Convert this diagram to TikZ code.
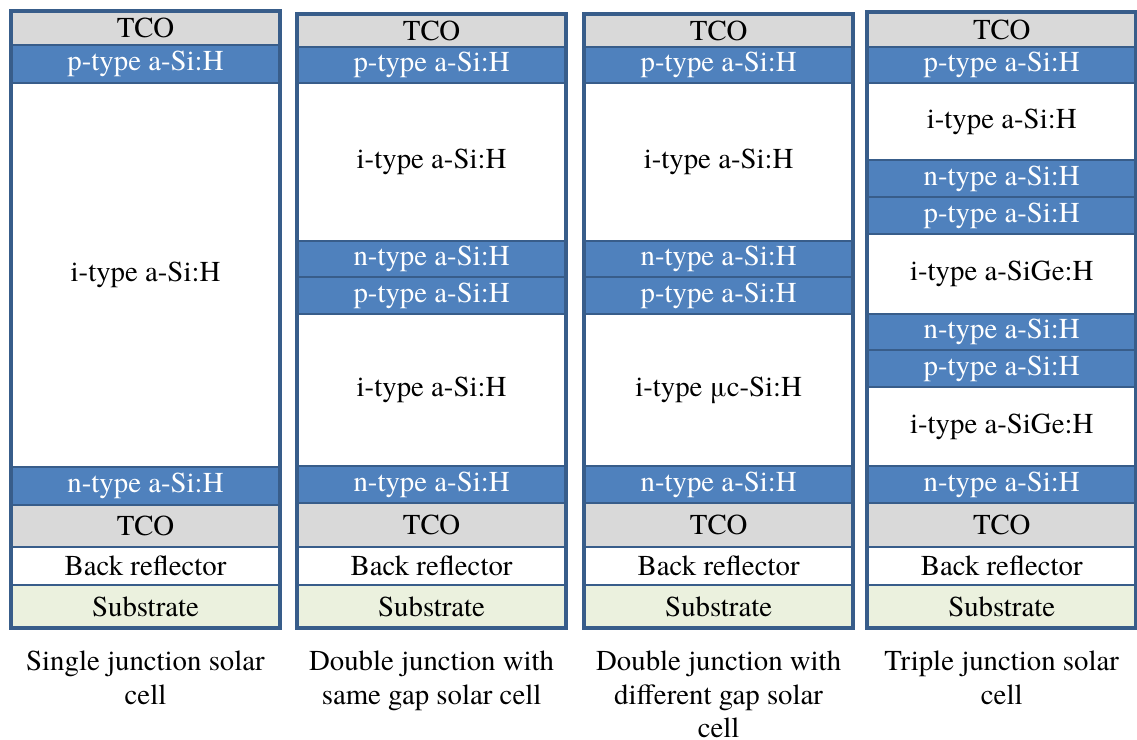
\documentclass[tikz,border=0pt]{standalone}
\usepackage{fontspec}
\setmainfont{texgyretermes}[Extension=.otf, UprightFont=*-regular,
  BoldFont=*-bold, ItalicFont=*-italic, BoldItalicFont=*-bolditalic]
\usepackage{xcolor}
\usepackage{tikz}
\definecolor{layerblue}{HTML}{4F81BD}
\definecolor{edgeblue}{HTML}{385D8A}
\definecolor{tcogrey}{HTML}{D9D9D9}
\definecolor{subgreen}{HTML}{EBF1DE}

\begin{document}
\begin{tikzpicture}[
  x=0.025cm, y=-0.025cm,
  font=\fontsize{20.5}{23.5}\selectfont,
  layer/.style={draw=edgeblue, line width=2pt, inner sep=0pt, outer sep=0pt,
    minimum width=269*0.025cm},
  tco/.style={layer, fill=tcogrey},
  dop/.style={layer, fill=layerblue, text=white},
  intr/.style={layer, fill=white},
  refl/.style={layer, fill=white},
  subs/.style={layer, fill=subgreen},
  cellframe/.style={draw=edgeblue, line width=2.8pt},
  cellcap/.style={anchor=north, align=center, inner sep=0pt},
]
  \useasboundingbox (0,0) rectangle (1137,740);

  % Single junction cell
\begin{scope}[xshift=0.275cm]
  \foreach \ya/\yb/\kind/\txt [count=\i] in {
      11/45/tco/TCO,
      45/83/dop/p-type a-Si:H,
      83/467/intr/i-type a-Si:H,
      467/505/dop/n-type a-Si:H,
      505/547/tco/TCO,
      547/585/refl/Back reflector,
      585/628/subs/Substrate}
    \node[\kind, minimum height={(\yb-\ya)*0.025cm}] (single-\i)
      at (134.5,{(\ya+\yb)/2}) {\txt};
  \draw[cellframe] (single-1.north west) rectangle (single-7.south east);
  \node[cellcap] (cap1) at (134.5,651) {Single junction solar\\cell};
\end{scope}

  % Double junction, same gap
\begin{scope}[xshift=7.425cm]
  \foreach \ya/\yb/\kind/\txt [count=\i] in {
      14/47/tco/TCO,
      47/83/dop/p-type a-Si:H,
      83/241/intr/i-type a-Si:H,
      241/277/dop/n-type a-Si:H,
      277/314/dop/p-type a-Si:H,
      314/466/intr/i-type a-Si:H,
      466/503/dop/n-type a-Si:H,
      503/547/tco/TCO,
      547/585/refl/Back reflector,
      585/628/subs/Substrate}
    \node[\kind, minimum height={(\yb-\ya)*0.025cm}] (same-\i)
      at (134.5,{(\ya+\yb)/2}) {\txt};
  \draw[cellframe] (same-1.north west) rectangle (same-10.south east);
  \node[cellcap] (cap2) at (134.5,651) {Double junction with\\same gap solar cell};
\end{scope}

  % Double junction, different gap
\begin{scope}[xshift=14.6cm]
  \foreach \ya/\yb/\kind/\txt [count=\i] in {
      14/47/tco/TCO,
      47/83/dop/p-type a-Si:H,
      83/241/intr/i-type a-Si:H,
      241/277/dop/n-type a-Si:H,
      277/314/dop/p-type a-Si:H,
      314/466/intr/i-type μc-Si:H,
      466/503/dop/n-type a-Si:H,
      503/547/tco/TCO,
      547/585/refl/Back reflector,
      585/628/subs/Substrate}
    \node[\kind, minimum height={(\yb-\ya)*0.025cm}] (diff-\i)
      at (134.5,{(\ya+\yb)/2}) {\txt};
  \draw[cellframe] (diff-1.north west) rectangle (diff-10.south east);
  \node[cellcap] (cap3) at (134.5,651) {Double junction with\\different gap solar\\cell};
\end{scope}

  % Triple junction cell
\begin{scope}[xshift=21.675cm]
  \foreach \ya/\yb/\kind/\txt [count=\i] in {
      12/47/tco/TCO,
      47/83/dop/p-type a-Si:H,
      83/160/intr/i-type a-Si:H,
      160/197/dop/n-type a-Si:H,
      197/234/dop/p-type a-Si:H,
      234/314/intr/i-type a-SiGe:H,
      314/350/dop/n-type a-Si:H,
      350/387/dop/p-type a-Si:H,
      387/466/intr/i-type a-SiGe:H,
      466/503/dop/n-type a-Si:H,
      503/547/tco/TCO,
      547/585/refl/Back reflector,
      585/628/subs/Substrate}
    \node[\kind, minimum height={(\yb-\ya)*0.025cm}] (triple-\i)
      at (134.5,{(\ya+\yb)/2}) {\txt};
  \draw[cellframe] (triple-1.north west) rectangle (triple-13.south east);
  \node[cellcap] (cap4) at (134.5,651) {Triple junction solar\\cell};
\end{scope}
\end{tikzpicture}
\end{document}
